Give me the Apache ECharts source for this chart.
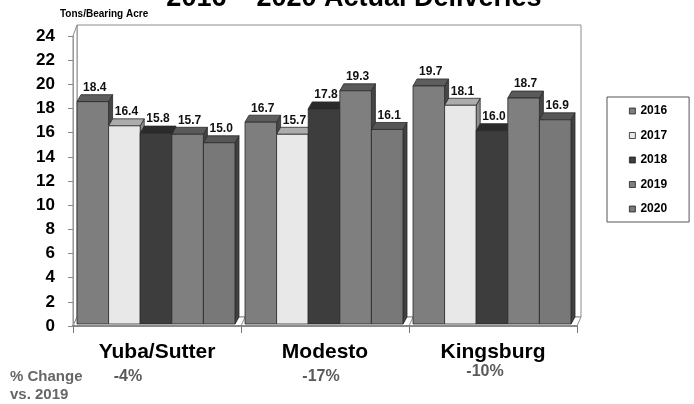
<!DOCTYPE html>
<html>
<head>
<meta charset="utf-8">
<script src="https://cdn.jsdelivr.net/npm/echarts@6/dist/echarts.min.js"></script>
<style>
  html, body { margin: 0; padding: 0; background: #ffffff; }
  #chart { width: 694px; height: 404px; }
</style>
</head>
<body>
<div id="chart"></div>
<script>
// Delivered tonnage per bearing acre, by district and season
const regions = ['Yuba/Sutter', 'Modesto', 'Kingsburg'];
const years = ['2016', '2017', '2018', '2019', '2020'];
const tons2016 = [18.4, 16.7, 19.7];
const tons2017 = [16.4, 15.7, 18.1];
const tons2018 = [15.8, 17.8, 16.0];
const tons2019 = [15.7, 19.3, 18.7];
const tons2020 = [15.0, 16.1, 16.9];
const pctChange = ['-4%', '-17%', '-10%'];
const yMin = 0, yMax = 24, yStep = 2;

const seriesValues = [tons2016, tons2017, tons2018, tons2019, tons2020];

// shading of the three visible faces of each column
const faces = [
  { front: '#7e7e7e', top: '#5d5d5d', side: '#474747' },
  { front: '#e8e8e8', top: '#acacac', side: '#8e8e8e' },
  { front: '#3d3d3d', top: '#2b2b2b', side: '#1f1f1f' },
  { front: '#7f7f7f', top: '#5a5a5a', side: '#454545' },
  { front: '#787878', top: '#565656', side: '#414141' }
];

const FONT = '"Liberation Sans", Arial, sans-serif';
const GRID = { left: 73, right: 117, top: 36, bottom: 78 };
const W = 694, H = 404;
const COL = { dx: 4, dy: -7, padL: 4, padR: 6, liftX: 0, liftY: -2 };
const WALL = { dx: 4, dyTop: -11, dyBottom: -9 };
const EDGE = '#2a2a2a';

function columnRenderer(k) {
  const f = faces[k];
  return function (params, api) {
    const cat = api.value(0);
    const val = api.value(1);
    const base = api.coord([cat, 0]);
    const tip = api.coord([cat, val]);
    const band = api.size([1, 0])[0];
    const bw = (band - COL.padL - COL.padR) / years.length;
    const x = base[0] - band / 2 + COL.padL + k * bw + COL.liftX;
    const yb = base[1] + COL.liftY;
    const yt = tip[1] + COL.liftY;
    const dx = COL.dx, dy = COL.dy;
    const edge = { stroke: EDGE, lineWidth: 0.8 };
    return {
      type: 'group',
      children: [
        {
          type: 'polygon',
          shape: { points: [[x + bw, yt], [x + bw + dx, yt + dy], [x + bw + dx, yb + dy], [x + bw, yb]] },
          style: Object.assign({ fill: f.side }, edge)
        },
        {
          type: 'polygon',
          shape: { points: [[x, yt], [x + dx, yt + dy], [x + bw + dx, yt + dy], [x + bw, yt]] },
          style: Object.assign({ fill: f.top }, edge)
        },
        {
          type: 'rect',
          shape: { x: x, y: yt, width: bw, height: yb - yt },
          style: Object.assign({ fill: f.front }, edge)
        },
        {
          type: 'text',
          z2: 100,
          x: x + bw / 2 + dx / 2,
          y: yt + dy - 7,
          style: {
            text: val.toFixed(1),
            fill: '#111',
            font: 'bold 12px ' + FONT,
            align: 'center',
            verticalAlign: 'middle'
          }
        }
      ]
    };
  };
}

const series = years.map(function (yr, k) {
  return {
    name: yr,
    type: 'custom',
    renderItem: columnRenderer(k),
    itemStyle: { color: faces[k].front },
    encode: { x: 0, y: 1 },
    data: seriesValues[k].map(function (v, i) { return [i, v]; })
  };
});

// box walls and floor behind the columns
const L = GRID.left, R = W - GRID.right, T = GRID.top, B = H - GRID.bottom;
const band = (R - L) / regions.length;
const wallStyle = { fill: '#ffffff', stroke: '#8c8c8c', lineWidth: 1 };
const graphics = [
  {
    type: 'rect', z: -10,
    shape: { x: L + WALL.dx, y: T + WALL.dyTop, width: R - L, height: (B + WALL.dyBottom) - (T + WALL.dyTop) },
    style: wallStyle
  },
  {
    type: 'polygon', z: -9,
    shape: { points: [[L, B], [L, T], [L + WALL.dx, T + WALL.dyTop], [L + WALL.dx, B + WALL.dyBottom]] },
    style: wallStyle
  },
  {
    type: 'polygon', z: -9,
    shape: { points: [[L, B], [R, B], [R + WALL.dx, B + WALL.dyBottom], [L + WALL.dx, B + WALL.dyBottom]] },
    style: wallStyle
  }
];
for (let i = 1; i < regions.length; i++) {
  const bx = L + band * i;
  graphics.push({
    type: 'line', z: -8,
    shape: { x1: bx, y1: B, x2: bx + WALL.dx, y2: B + WALL.dyBottom },
    style: { stroke: '#8c8c8c', lineWidth: 1 }
  });
}
graphics.push(
  {
    type: 'text', x: 354, y: -1,
    style: { text: '2016 \u2013 2020 Actual Deliveries', font: 'bold 27px ' + FONT, fill: '#000', align: 'center', verticalAlign: 'middle' }
  },
  {
    // condensed unit caption
    type: 'text', x: 60, y: 14, scaleX: 0.87, originX: 0, originY: 0,
    style: { text: 'Tons/Bearing Acre', font: 'bold 11.5px ' + FONT, fill: '#000', align: 'left', verticalAlign: 'middle' }
  },
  {
    type: 'text', x: 10, y: 377,
    style: { text: '% Change', font: 'bold 15px ' + FONT, fill: '#666', align: 'left', verticalAlign: 'middle' }
  },
  {
    type: 'text', x: 10, y: 395,
    style: { text: 'vs. 2019', font: 'bold 15px ' + FONT, fill: '#666', align: 'left', verticalAlign: 'middle' }
  }
);
const pctPos = [[128, 377], [321, 377], [485, 372]];
pctChange.forEach(function (t, i) {
  graphics.push({
    type: 'text', x: pctPos[i][0], y: pctPos[i][1],
    style: { text: t, font: 'bold 16px ' + FONT, fill: '#5a5a5a', align: 'center', verticalAlign: 'middle' }
  });
});

const chart = echarts.init(document.getElementById('chart'), null, { renderer: 'canvas' });
chart.setOption({
  animation: false,
  backgroundColor: '#ffffff',
  grid: { left: GRID.left, right: GRID.right, top: GRID.top, bottom: GRID.bottom, containLabel: false },
  legend: {
    data: years,
    orient: 'vertical',
    left: 607,
    top: 97,
    icon: 'rect',
    itemWidth: 6,
    itemHeight: 6,
    itemGap: 12.5,
    padding: [8, 22, 7, 22],
    backgroundColor: '#ffffff',
    borderColor: '#555555',
    borderWidth: 1,
    selectedMode: false,
    itemStyle: { borderColor: '#222', borderWidth: 0.8 },
    textStyle: { color: '#000', fontWeight: 'bold', fontSize: 12, fontFamily: FONT }
  },
  xAxis: {
    type: 'category',
    data: regions,
    boundaryGap: true,
    axisLine: { show: true, lineStyle: { color: '#8a8a8a', width: 2 } },
    axisTick: { show: true, interval: 0, length: 7, lineStyle: { color: '#777' } },
    axisLabel: { interval: 0, margin: 16, color: '#000', fontWeight: 'bold', fontSize: 21, fontFamily: FONT },
    splitLine: { show: false }
  },
  yAxis: {
    type: 'value',
    min: yMin,
    max: yMax,
    interval: yStep,
    axisLine: { show: true, lineStyle: { color: '#9a9a9a', width: 1 } },
    axisTick: { show: true, length: 5, lineStyle: { color: '#888' } },
    axisLabel: { margin: 18, color: '#000', fontWeight: 'bold', fontSize: 17, fontFamily: FONT },
    splitLine: { show: false }
  },
  graphic: graphics,
  series: series
});
</script>
</body>
</html>
